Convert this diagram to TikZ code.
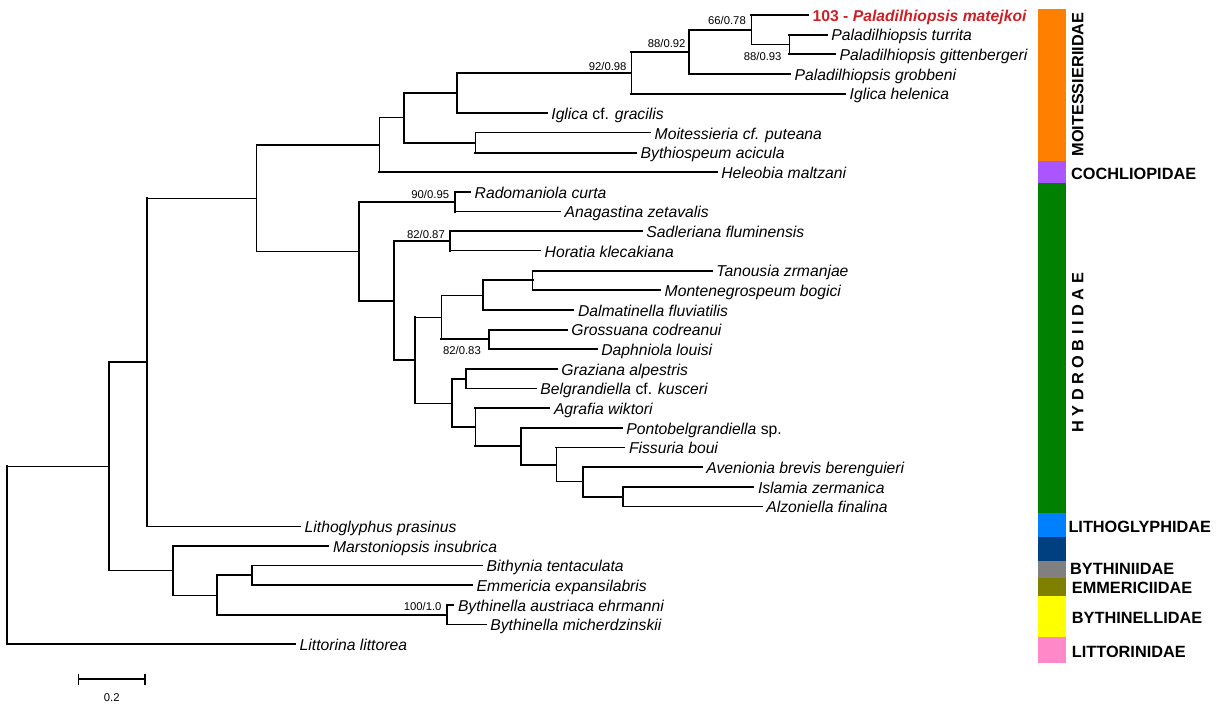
\documentclass[tikz,border=0pt]{standalone}
\usepackage{fontspec}
\setmainfont{Liberation Sans}
\definecolor{hlred}{RGB}{204,32,39}
\definecolor{cOrange}{RGB}{255,128,0}
\definecolor{cPurple}{RGB}{170,85,255}
\definecolor{cGreen}{RGB}{0,128,0}
\definecolor{cLblue}{RGB}{0,128,255}
\definecolor{cDblue}{RGB}{0,64,128}
\definecolor{cGray}{RGB}{128,128,128}
\definecolor{cOlive}{RGB}{128,128,0}
\definecolor{cYellow}{RGB}{255,255,0}
\definecolor{cPink}{RGB}{255,136,200}
\newcommand\tbranch[3]{\draw[#1] (#2 |- #3) -- (#3);}
\newcommand\tvert[4]{\draw[#1] (#2 |- #3) -- (#2 |- #4);}
\begin{document}
\begin{tikzpicture}[x=1pt,y=-1pt,
  thk/.style={line width=1.9pt, line cap=rect},
  thn/.style={line width=1pt, line cap=rect},
  leaf/.style={anchor=base west, inner sep=0pt, xshift=4.5pt, yshift=-6.3pt, font=\fontsize{15.7}{18}\selectfont\itshape},
  boot/.style={anchor=base east, inner sep=0pt, font=\fontsize{11.3}{13}\selectfont},
  fam/.style={anchor=base west, inner sep=0pt, font=\fontsize{16.3}{19}\selectfont\bfseries},
]
\useasboundingbox (0,0) rectangle (1219,705);
\fill[white] (0,0) rectangle (1219,705);

% ---------- leaves (line ends)
\coordinate (l0) at (808,15);
\coordinate (l1) at (826.7,34.66);
\coordinate (l2) at (835,54.32);
\coordinate (l3) at (790,73.98);
\coordinate (l4) at (845,93.64);
\coordinate (l5) at (546.7,113.3);
\coordinate (l6) at (650,132.96);
\coordinate (l7) at (636,152.62);
\coordinate (l8) at (716.7,172.28);
\coordinate (l9) at (470,191.94);
\coordinate (l10) at (560,211.6);
\coordinate (l11) at (641.7,231.26);
\coordinate (l12) at (540,250.92);
\coordinate (l13) at (711.7,270.58);
\coordinate (l14) at (660,290.24);
\coordinate (l15) at (573.3,309.9);
\coordinate (l16) at (566.7,329.56);
\coordinate (l17) at (596.7,349.22);
\coordinate (l18) at (556.7,368.88);
\coordinate (l19) at (535.7,388.54);
\coordinate (l20) at (549.3,408.2);
\coordinate (l21) at (621.7,427.86);
\coordinate (l22) at (624.3,447.52);
\coordinate (l23) at (701.7,467.18);
\coordinate (l24) at (753.3,486.84);
\coordinate (l25) at (761.7,506.5);
\coordinate (l26) at (300,526.16);
\coordinate (l27) at (328.3,545.82);
\coordinate (l28) at (482,565.48);
\coordinate (l29) at (472,585.14);
\coordinate (l30) at (453.3,604.8);
\coordinate (l31) at (485.7,624.46);
\coordinate (l32) at (295,644.12);

% ---------- internal nodes
\coordinate (nR0) at (7.3,555.2);
\coordinate (nM) at (109,466.3);
\coordinate (nN) at (146.7,362.1);
\coordinate (nO) at (256.7,198.1);
\coordinate (nA) at (379.3,145.1);
\coordinate (nB) at (404,117.9);
\coordinate (nC) at (457.3,93);
\coordinate (nE) at (631,72.8);
\coordinate (nF) at (689.3,51.9);
\coordinate (nG) at (751,29.7);
\coordinate (nH) at (789.3,44.5);
\coordinate (nD) at (475,142.8);
\coordinate (nP) at (359,251.2);
\coordinate (nR) at (455,201.8);
\coordinate (nS) at (394,300.6);
\coordinate (nT) at (450,241.1);
\coordinate (nU) at (415,360.1);
\coordinate (nV) at (441,317.3);
\coordinate (nX) at (482.7,295.2);
\coordinate (nZ) at (532.7,280.4);
\coordinate (nY) at (489,339.4);
\coordinate (nW) at (451.7,403);
\coordinate (nAA) at (466,378.7);
\coordinate (nAB) at (475,427.25);
\coordinate (nAC) at (521,446.3);
\coordinate (nAD) at (556,464.7);
\coordinate (nAE) at (583.3,481.9);
\coordinate (nAF) at (622.7,496.67);
\coordinate (nI) at (173.3,570.4);
\coordinate (nJ) at (216.7,595);
\coordinate (nK) at (251.7,575.3);
\coordinate (nL) at (446.7,614.6);

% ---------- branches
\tvert{thk}{nR0}{nM}{l32} \tbranch{thn}{nR0}{nM} \tbranch{thk}{nR0}{l32}
\tvert{thk}{nM}{nN}{nI} \tbranch{thk}{nM}{nN} \tbranch{thn}{nM}{nI}
\tvert{thk}{nN}{nO}{l26} \tbranch{thn}{nN}{nO} \tbranch{thn}{nN}{l26}
\tvert{thn}{nO}{nA}{nP} \tbranch{thk}{nO}{nA} \tbranch{thn}{nO}{nP}
\tvert{thn}{nA}{nB}{l8} \tbranch{thn}{nA}{nB} \tbranch{thk}{nA}{l8}
\tvert{thk}{nB}{nC}{nD} \tbranch{thk}{nB}{nC} \tbranch{thk}{nB}{nD}
\tvert{thk}{nC}{nE}{l5} \tbranch{thk}{nC}{nE} \tbranch{thk}{nC}{l5}
\tvert{thn}{nE}{nF}{l4} \tbranch{thk}{nE}{nF} \tbranch{thk}{nE}{l4}
\tvert{thk}{nF}{nG}{l3} \tbranch{thk}{nF}{nG} \tbranch{thk}{nF}{l3}
\tvert{thn}{nG}{l0}{nH} \tbranch{thk}{nG}{l0} \tbranch{thn}{nG}{nH}
\tvert{thn}{nH}{l1}{l2} \tbranch{thk}{nH}{l1} \tbranch{thk}{nH}{l2}
\tvert{thn}{nD}{l6}{l7} \tbranch{thn}{nD}{l6} \tbranch{thk}{nD}{l7}
\tvert{thk}{nP}{nR}{nS} \tbranch{thk}{nP}{nR} \tbranch{thk}{nP}{nS}
\tvert{thk}{nR}{l9}{l10} \tbranch{thk}{nR}{l9} \tbranch{thn}{nR}{l10}
\tvert{thk}{nS}{nT}{nU} \tbranch{thk}{nS}{nT} \tbranch{thk}{nS}{nU}
\tvert{thk}{nT}{l11}{l12} \tbranch{thk}{nT}{l11} \tbranch{thn}{nT}{l12}
\tvert{thk}{nU}{nV}{nW} \tbranch{thn}{nU}{nV} \tbranch{thn}{nU}{nW}
\tvert{thn}{nV}{nX}{nY} \tbranch{thn}{nV}{nX} \tbranch{thk}{nV}{nY}
\tvert{thk}{nX}{nZ}{l15} \tbranch{thk}{nX}{nZ} \tbranch{thk}{nX}{l15}
\tvert{thn}{nZ}{l13}{l14} \tbranch{thk}{nZ}{l13} \tbranch{thk}{nZ}{l14}
\tvert{thk}{nY}{l16}{l17} \tbranch{thk}{nY}{l16} \tbranch{thk}{nY}{l17}
\tvert{thk}{nW}{nAA}{nAB} \tbranch{thk}{nW}{nAA} \tbranch{thk}{nW}{nAB}
\tvert{thk}{nAA}{l18}{l19} \tbranch{thk}{nAA}{l18} \tbranch{thk}{nAA}{l19}
\tvert{thn}{nAB}{l20}{nAC} \tbranch{thk}{nAB}{l20} \tbranch{thk}{nAB}{nAC}
\tvert{thk}{nAC}{l21}{nAD} \tbranch{thk}{nAC}{l21} \tbranch{thk}{nAC}{nAD}
\tvert{thn}{nAD}{l22}{nAE} \tbranch{thk}{nAD}{l22} \tbranch{thn}{nAD}{nAE}
\tvert{thk}{nAE}{l23}{nAF} \tbranch{thk}{nAE}{l23} \tbranch{thk}{nAE}{nAF}
\tvert{thk}{nAF}{l24}{l25} \tbranch{thk}{nAF}{l24} \tbranch{thk}{nAF}{l25}
\tvert{thk}{nI}{l27}{nJ} \tbranch{thk}{nI}{l27} \tbranch{thn}{nI}{nJ}
\tvert{thk}{nJ}{nK}{nL} \tbranch{thk}{nJ}{nK} \tbranch{thk}{nJ}{nL}
\tvert{thk}{nK}{l28}{l29} \tbranch{thn}{nK}{l28} \tbranch{thk}{nK}{l29}
\tvert{thk}{nL}{l30}{l31} \tbranch{thk}{nL}{l30} \tbranch{thk}{nL}{l31}

% ---------- leaf labels
\node[leaf, text=hlred, font=\fontsize{15.7}{18}\selectfont\bfseries] (t0) at (l0) {103 - \textit{Paladilhiopsis matejkoi}};
\node[leaf] (t1) at (l1) {Paladilhiopsis turrita};
\node[leaf] (t2) at (l2) {Paladilhiopsis gittenbergeri};
\node[leaf] (t3) at (l3) {Paladilhiopsis grobbeni};
\node[leaf] (t4) at (l4) {Iglica helenica};
\node[leaf] (t5) at (l5) {Iglica {\upshape cf.} gracilis};
\node[leaf] (t6) at (l6) {Moitessieria cf. puteana};
\node[leaf] (t7) at (l7) {Bythiospeum acicula};
\node[leaf] (t8) at (l8) {Heleobia maltzani};
\node[leaf] (t9) at (l9) {Radomaniola curta};
\node[leaf] (t10) at (l10) {Anagastina zetavalis};
\node[leaf] (t11) at (l11) {Sadleriana fluminensis};
\node[leaf] (t12) at (l12) {Horatia klecakiana};
\node[leaf] (t13) at (l13) {Tanousia zrmanjae};
\node[leaf] (t14) at (l14) {Montenegrospeum bogici};
\node[leaf] (t15) at (l15) {Dalmatinella fluviatilis};
\node[leaf] (t16) at (l16) {Grossuana codreanui};
\node[leaf] (t17) at (l17) {Daphniola louisi};
\node[leaf] (t18) at (l18) {Graziana alpestris};
\node[leaf] (t19) at (l19) {Belgrandiella {\upshape cf.} kusceri};
\node[leaf] (t20) at (l20) {Agrafia wiktori};
\node[leaf] (t21) at (l21) {Pontobelgrandiella {\upshape sp.}};
\node[leaf] (t22) at (l22) {Fissuria boui};
\node[leaf] (t23) at (l23) {Avenionia brevis berenguieri};
\node[leaf] (t24) at (l24) {Islamia zermanica};
\node[leaf] (t25) at (l25) {Alzoniella finalina};
\node[leaf] (t26) at (l26) {Lithoglyphus prasinus};
\node[leaf] (t27) at (l27) {Marstoniopsis insubrica};
\node[leaf] (t28) at (l28) {Bithynia tentaculata};
\node[leaf] (t29) at (l29) {Emmericia expansilabris};
\node[leaf] (t30) at (l30) {Bythinella austriaca ehrmanni};
\node[leaf] (t31) at (l31) {Bythinella micherdzinskii};
\node[leaf] (t32) at (l32) {Littorina littorea};

% ---------- support values
\node[boot] (b1) at (746,24.7) {66/0.78};
\node[boot] (b2) at (781.7,60.7) {88/0.93};
\node[boot] (b3) at (685.7,47.3) {88/0.92};
\node[boot] (b4) at (626.7,70.7) {92/0.98};
\node[boot] (b5) at (449.3,198) {90/0.95};
\node[boot] (b6) at (445,238) {82/0.87};
\node[boot] (b7) at (481,354.7) {82/0.83};
\node[boot] (b8) at (441.7,610.7) {100/1.0};

% ---------- scale bar
\coordinate (sb1) at (78.3,679);
\coordinate (sb2) at (145,679);
\draw[line width=1.6pt] (sb1) -- (sb2);
\draw[line width=1.6pt] (sb1) ++(0,-5.5) -- ++(0,11);
\draw[line width=1.6pt] (sb2) ++(0,-5.5) -- ++(0,11);
\node[anchor=base, inner sep=0pt, font=\fontsize{11.3}{13}\selectfont] (sblab) at (111.7,701) {0.2};

% ---------- family colour bar
\fill[cOrange] (1038,9) rectangle (1066,161);
\fill[cPurple] (1038,161) rectangle (1066,183);
\fill[cGreen] (1038,183) rectangle (1066,513);
\fill[cLblue] (1038,513) rectangle (1066,537);
\fill[cDblue] (1038,537) rectangle (1066,561);
\fill[cGray] (1038,561) rectangle (1066,578);
\fill[cOlive] (1038,578) rectangle (1066,596);
\fill[cYellow] (1038,596) rectangle (1066,637);
\fill[cPink] (1038,637) rectangle (1066,663);

\node[fam, rotate=90] (f1) at (1083.3,156.7) {MOITESSIERIIDAE};
\node[fam] (f2) at (1071,179) {COCHLIOPIDAE};
\node[fam, rotate=90] (f3) at (1083.3,432.7) {H Y D R O B I I D A E};
\node[fam] (f4) at (1068.3,532.7) {LITHOGLYPHIDAE};
\node[fam] (f5) at (1070,574.3) {BYTHINIIDAE};
\node[fam] (f6) at (1071.7,593.3) {EMMERICIIDAE};
\node[fam] (f7) at (1071.7,623.3) {BYTHINELLIDAE};
\node[fam] (f8) at (1071.7,657.3) {LITTORINIDAE};
\end{tikzpicture}
\end{document}
